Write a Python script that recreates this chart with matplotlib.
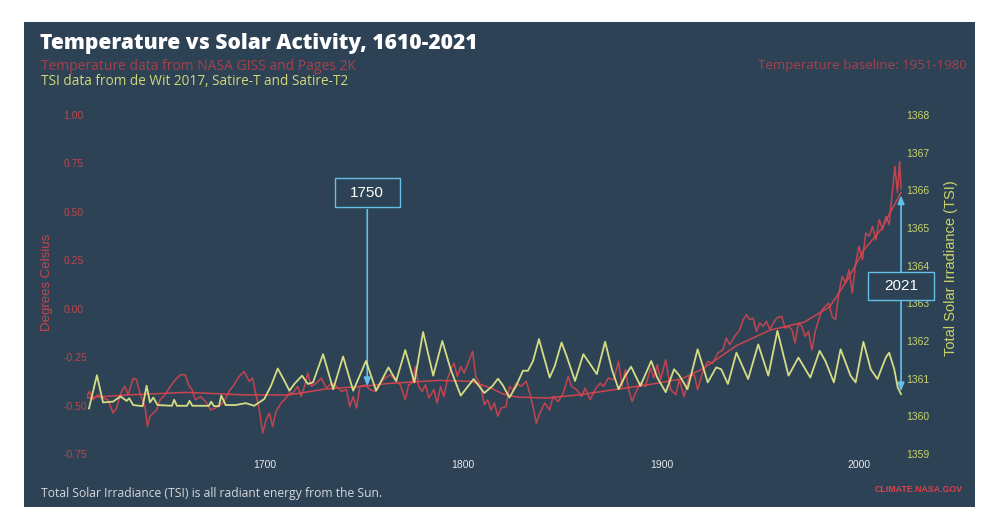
import numpy as np
import matplotlib
matplotlib.use('Agg')
import matplotlib.pyplot as plt
from matplotlib.patches import Rectangle
from matplotlib.transforms import blended_transform_factory

# temperature anomaly (deg C)
temp_years = [1610, 1611.3, 1613, 1615.5, 1618.1, 1620.6, 1623.2, 1624.9, 1627.4, 1629.1,
              1630.8, 1633.3, 1635, 1636.7, 1639.3, 1640.5, 1641.8, 1643.5, 1645.2, 1646.9,
              1649.5, 1652, 1654.6, 1657.1, 1659.6, 1661.3, 1663, 1664.7, 1667.3, 1669.8,
              1672.4, 1674.9, 1677.5, 1679.2, 1681.7, 1684.2, 1686.8, 1689.3, 1691.9, 1693.6,
              1695.3, 1697, 1698.7, 1700.4, 1702.1, 1703.7, 1705.4, 1708, 1709.7, 1712.2,
              1713.9, 1716.4, 1718.1, 1719.8, 1721.5, 1723.2, 1725.8, 1728.3, 1730.9, 1733.4,
              1736, 1738.5, 1741, 1742.7, 1744.4, 1746.1, 1747.8, 1750.4, 1752.9, 1755.5,
              1758, 1760.5, 1763.1, 1765.6, 1768.2, 1770.7, 1772.4, 1774.1, 1775.8, 1777.5,
              1779.2, 1780.9, 1782.6, 1785.1, 1786.8, 1788.5, 1790.2, 1791.9, 1793.6, 1795.3,
              1797, 1798.7, 1800.4, 1802.1, 1804.7, 1806.3, 1808.9, 1810.6, 1812.3, 1814,
              1815.7, 1817.4, 1819.1, 1821.6, 1823.3, 1825, 1826.7, 1829.2, 1831.8, 1833.5,
              1835.2, 1836.9, 1838.6, 1841.1, 1843.6, 1845.3, 1847.9, 1850.4, 1853, 1854.7,
              1857.2, 1859.8, 1861.5, 1864, 1866.5, 1869.1, 1870.8, 1873.3, 1875.9, 1878.4,
              1880.1, 1881.8, 1883.5, 1885.2, 1886.9, 1889.4, 1892, 1894.5, 1896.2, 1897.9,
              1899.6, 1902.2, 1904.7, 1907.3, 1909, 1911.5, 1914, 1916.6, 1918.3, 1920.8,
              1923.4, 1926, 1928.5, 1931.1, 1932.8, 1934.5, 1937, 1939.6, 1941.3, 1943,
              1944.7, 1946.3, 1948, 1949.7, 1951.4, 1953.1, 1954.8, 1956.5, 1958.2, 1960.8,
              1962.5, 1964.2, 1965.9, 1967.5, 1969.2, 1970.9, 1972.6, 1974.3, 1976, 1977.7,
              1979.4, 1981.1, 1982.8, 1984.5, 1986.2, 1987.9, 1989.6, 1991.3, 1993, 1994.7,
              1996.4, 1998.1, 1999.8, 2001.5, 2003.2, 2004.9, 2006.6, 2008.3, 2010, 2011.7,
              2013.4, 2015, 2016.7, 2017.9, 2019.2, 2020.3, 2021]
temp_vals = [-0.45, -0.427, -0.47, -0.444, -0.461, -0.47, -0.539, -0.513, -0.427, -0.401,
             -0.444, -0.358, -0.367, -0.436, -0.505, -0.608, -0.556, -0.539, -0.522, -0.47,
             -0.444, -0.401, -0.367, -0.341, -0.341, -0.393, -0.418, -0.47, -0.453, -0.479,
             -0.522, -0.513, -0.496, -0.479, -0.427, -0.393, -0.35, -0.324, -0.375, -0.358,
             -0.444, -0.522, -0.642, -0.573, -0.539, -0.608, -0.53, -0.487, -0.47, -0.436,
             -0.436, -0.401, -0.453, -0.401, -0.332, -0.401, -0.384, -0.358, -0.41, -0.384,
             -0.401, -0.427, -0.418, -0.505, -0.453, -0.513, -0.401, -0.393, -0.418, -0.427,
             -0.384, -0.358, -0.341, -0.367, -0.393, -0.47, -0.393, -0.384, -0.298, -0.401,
             -0.427, -0.393, -0.461, -0.418, -0.487, -0.401, -0.453, -0.367, -0.315, -0.281,
             -0.35, -0.298, -0.332, -0.289, -0.22, -0.35, -0.401, -0.496, -0.47, -0.522,
             -0.487, -0.556, -0.513, -0.505, -0.401, -0.418, -0.384, -0.401, -0.375, -0.436,
             -0.505, -0.591, -0.539, -0.487, -0.522, -0.453, -0.479, -0.436, -0.35, -0.401,
             -0.418, -0.453, -0.41, -0.47, -0.418, -0.384, -0.401, -0.358, -0.367, -0.272,
             -0.401, -0.315, -0.418, -0.479, -0.436, -0.384, -0.401, -0.306, -0.358, -0.289,
             -0.367, -0.263, -0.418, -0.444, -0.367, -0.453, -0.35, -0.341, -0.418, -0.33,
             -0.272, -0.281, -0.229, -0.212, -0.151, -0.186, -0.143, -0.108, -0.057, -0.031,
             -0.057, -0.048, -0.117, -0.074, -0.091, -0.065, -0.108, -0.074, -0.048, -0.04,
             -0.1, -0.091, -0.108, -0.177, -0.074, -0.091, -0.143, -0.117, -0.212, -0.117,
             -0.057, -0.005, 0.012, 0.029, -0.04, -0.057, 0.081, 0.167, 0.133, 0.201,
             0.081, 0.236, 0.322, 0.253, 0.391, 0.374, 0.425, 0.356, 0.46, 0.408,
             0.477, 0.434, 0.615, 0.735, 0.6, 0.76, 0.62]

# smoothed temperature
smooth_years = [1610, 1630, 1660, 1690, 1712, 1730, 1750, 1763, 1788, 1804, 1814, 1820, 1827,
                1842, 1859, 1876, 1893, 1910, 1921, 1938, 1955, 1972, 1985, 1994, 2002, 2011, 2021]
smooth_vals = [-0.46, -0.445, -0.432, -0.445, -0.445, -0.415, -0.40, -0.385, -0.37, -0.375,
               -0.41, -0.44, -0.456, -0.461, -0.444, -0.418, -0.393, -0.363, -0.31, -0.19,
               -0.11, -0.07, 0.01, 0.15, 0.30, 0.41, 0.60]

# total solar irradiance (W/m2)
tsi_years = [1611, 1615, 1618.1, 1623.2, 1626.9, 1630, 1631.3, 1633.3, 1638.1, 1640.1,
             1641.8, 1643.5, 1645.6, 1652.9, 1654, 1655.4, 1660.5, 1661.8, 1663.2, 1671.5,
             1672.7, 1674.1, 1676.6, 1677.8, 1680, 1685, 1688, 1690.2, 1694.4, 1699.5,
             1702.9, 1706.3, 1709.7, 1712.2, 1714.7, 1718.6, 1721.5, 1724.1, 1729.2, 1734.3,
             1739.3, 1744.4, 1750.9, 1756, 1762.2, 1766.1, 1770.7, 1775.3, 1779.7, 1784.8,
             1789.4, 1793.6, 1798.7, 1805.2, 1810.6, 1814.8, 1817.5, 1820, 1823.3, 1826.7,
             1830.1, 1832.6, 1835.2, 1838.2, 1840.3, 1843.6, 1846.2, 1849.6, 1852.1, 1856.4,
             1860.6, 1864, 1867.4, 1871.6, 1875, 1878.4, 1881.8, 1884.7, 1889.4, 1894.9,
             1897.9, 1902.2, 1906.4, 1909, 1913.2, 1918.3, 1920.9, 1923.4, 1927.7, 1930.2,
             1933.6, 1937.9, 1943.8, 1948.9, 1954, 1958.6, 1964.2, 1969.2, 1975.2, 1979.9,
             1982.8, 1987.1, 1990.5, 1995.5, 1998.1, 2002, 2005.7, 2009.1, 2013.3, 2015,
             2017.6, 2019.3, 2021]
tsi_vals = [1360.21, 1361.09, 1360.37, 1360.39, 1360.53, 1360.41, 1360.48, 1360.30, 1360.27, 1360.81,
            1360.37, 1360.50, 1360.30, 1360.28, 1360.44, 1360.28, 1360.28, 1360.41, 1360.28, 1360.28,
            1360.39, 1360.27, 1360.27, 1360.55, 1360.30, 1360.30, 1360.33, 1360.35, 1360.28, 1360.46,
            1360.81, 1361.27, 1360.94, 1360.68, 1360.86, 1361.08, 1360.86, 1360.90, 1361.65, 1360.72,
            1361.59, 1360.68, 1361.47, 1360.68, 1361.30, 1360.94, 1361.76, 1360.90, 1362.24, 1361.08,
            1362.00, 1361.25, 1360.55, 1360.99, 1360.62, 1360.81, 1361.00, 1360.82, 1360.50, 1360.81,
            1361.21, 1361.21, 1361.47, 1362.05, 1361.65, 1361.03, 1361.34, 1361.96, 1361.61, 1360.94,
            1361.65, 1361.39, 1361.12, 1361.98, 1361.25, 1360.72, 1361.08, 1361.32, 1360.81, 1361.47,
            1361.03, 1360.64, 1361.25, 1361.09, 1360.72, 1361.78, 1361.34, 1360.90, 1361.30, 1361.25,
            1360.86, 1361.69, 1360.99, 1361.91, 1361.08, 1362.27, 1361.08, 1361.56, 1361.03, 1361.74,
            1361.47, 1360.90, 1361.78, 1361.08, 1360.90, 1361.98, 1361.25, 1360.99, 1361.56, 1361.69,
            1361.25, 1360.77, 1360.59]

temp_ticks = [-0.75, -0.5, -0.25, 0.0, 0.25, 0.5, 0.75, 1.0]
tsi_ticks = [1359, 1360, 1361, 1362, 1363, 1364, 1365, 1366, 1367, 1368]
year_ticks = [1700, 1800, 1900, 2000]
marker_years = [1750, 2021]

BG = '#2e4255'
RED = '#dc454e'
YEL = '#e6ee88'
BLUE = '#63c0e8'
SANS = 'Liberation Sans'
FANCY = 'Open Sans'

fig = plt.figure(figsize=(10, 5.3), dpi=100)
fig.patch.set_facecolor('white')
fig.add_artist(Rectangle((0.024, 0.0434), 0.951, 0.915, transform=fig.transFigure,
                         facecolor=BG, edgecolor='none', zorder=0))

ax = fig.add_axes([0.087, 0.1434, 0.816, 0.6396])
ax.patch.set_visible(False)
ax2 = ax.twinx()
ax2.patch.set_visible(False)

ax.plot(temp_years, temp_vals, color=RED, lw=1.1, alpha=0.85)
ax.plot(smooth_years, smooth_vals, color=RED, lw=1.1, alpha=0.9)
ax2.plot(tsi_years, tsi_vals, color=YEL, lw=1.3, alpha=0.9, solid_joinstyle='round')

ax.set_xlim(1610, 2022)
ax.set_ylim(-0.75, 1.0)
ax2.set_ylim(1359, 1368)

for a in (ax, ax2):
    for s in a.spines.values():
        s.set_visible(False)

ax.set_xticks(year_ticks)
ax.set_xticklabels([str(y) for y in year_ticks], fontsize=7.5, family=SANS, color='#e8e8e8')
ax.tick_params(axis='x', length=0, pad=4)
ax.set_yticks(temp_ticks)
ax.set_yticklabels(['%.2f' % v for v in temp_ticks], fontsize=7.5, family=SANS, color='#b9464c')
ax.tick_params(axis='y', length=0, pad=17)
for lbl in ax.get_yticklabels():
    lbl.set_horizontalalignment('left')
ax2.set_yticks(tsi_ticks)
ax2.set_yticklabels([str(v) for v in tsi_ticks], fontsize=7.5, family=SANS, color='#c8d46c')
ax2.tick_params(axis='y', length=0, pad=2)

# marker arrows and boxes
trans = blended_transform_factory(ax.transData, ax.transAxes)
ax.annotate('', xy=(marker_years[0] + 1.5, smooth_vals[6] - 0.015), xycoords='data',
            xytext=(marker_years[0] + 1.5, 0.729), textcoords=trans,
            arrowprops=dict(arrowstyle='-|>,head_length=0.5,head_width=0.2', color=BLUE, lw=1.2))
ax2.annotate('', xy=(marker_years[1], tsi_vals[-1]), xycoords='data',
             xytext=(marker_years[1], smooth_vals[-1]), textcoords=ax.transData,
             arrowprops=dict(arrowstyle='<|-|>,head_length=0.5,head_width=0.2', color=BLUE, lw=1.2),
             annotation_clip=False)
for yr, x_c, y0 in zip(marker_years, [marker_years[0] + 1.5, marker_years[1]], [0.729, 0.454]):
    ax2.add_patch(Rectangle((x_c - 16.5, y0), 33, 0.084, transform=trans, facecolor=BG,
                            edgecolor=BLUE, lw=1, clip_on=False, zorder=5))
    ax2.text(x_c, y0 + 0.042, str(yr), transform=trans, ha='center', va='center',
             fontsize=11, color='white', family=SANS, zorder=6)

# texts
fig.text(0.040, 1 - 49 / 530, 'Temperature vs Solar Activity, 1610-2021', fontsize=15.1,
         weight='heavy', color='white', family=FANCY, va='baseline')
fig.text(0.041, 1 - 70 / 530, 'Temperature data from NASA GISS and Pages 2K', fontsize=10,
         color='#a8404a', family=FANCY, va='baseline')
fig.text(0.041, 1 - 85 / 530, 'TSI data from de Wit 2017, Satire-T and Satire-T2', fontsize=9.8,
         color='#cfd97a', family=FANCY, va='baseline')
fig.text(0.967, 1 - 69 / 530, 'Temperature baseline: 1951-1980', fontsize=9.5,
         color='#a8404a', family=FANCY, va='baseline', ha='right')
fig.text(0.041, 1 - 497 / 530, 'Total Solar Irradiance (TSI) is all radiant energy from the Sun.',
         fontsize=8.75, color='#d5d8dc', family=FANCY, va='baseline')
fig.text(0.963, 1 - 492 / 530, 'CLIMATE.NASA.GOV', fontsize=6.3, weight='bold',
         color='#d8434c', family=SANS, va='baseline', ha='right')
fig.text(0.047, 1 - 282 / 530, 'Degrees Celsius', rotation=90, fontsize=9.5,
         color='#c4474e', family=SANS, ha='center', va='center')
fig.text(0.951, 1 - 268 / 530, 'Total Solar Irradiance (TSI)', rotation=90, fontsize=10.5,
         color='#c9d46a', family=SANS, ha='center', va='center')

fig.savefig('out.png', dpi=100, facecolor='white')
